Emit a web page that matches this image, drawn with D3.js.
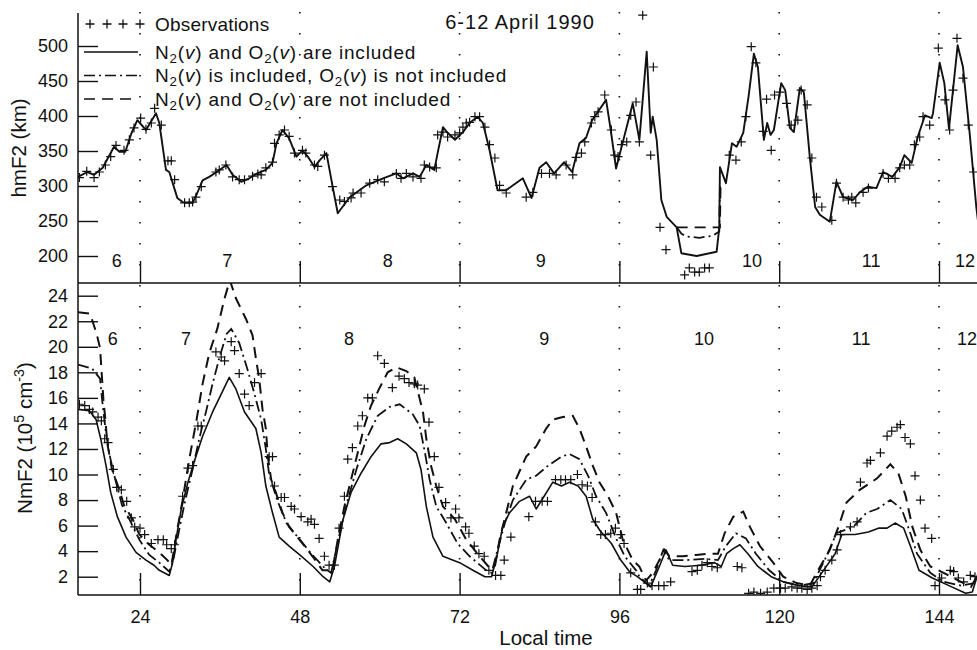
<!DOCTYPE html>
<html>
<head>
<meta charset="utf-8">
<script src="https://cdn.jsdelivr.net/npm/d3@7"></script>
<style>
  body { margin: 0; background: #fff; }
  svg { font-family: "Liberation Sans", Arial, Helvetica, sans-serif; }
</style>
</head>
<body>
<svg id="chart" width="977" height="650"></svg>
<script>
// hmF2 (km), model with N2(v) and O2(v)
const hmSolid = [[14.7,313],[16.1,320],[17.1,316],[18.4,326],[20.1,356],[20.9,349],[21.8,349],[22.7,375],[23.6,394],[24.9,380],[26.4,404],[26.9,390],[27.9,323],[28.4,320],[29.6,283],[30.4,277],[31.9,276],[32.6,290],[33.4,308],[34.4,313],[35.5,320],[37.0,330],[37.9,316],[39.2,306],[40.4,311],[41.6,318],[42.9,323],[43.9,333],[44.5,361],[45.4,380],[46.4,368],[47.5,342],[48.4,351],[49.2,342],[50.2,327],[51.0,337],[52.0,347],[52.9,301],[53.7,261],[55.5,284],[58.0,301],[60.5,311],[62.5,318],[63.5,311],[65.0,318],[66.0,313],[67.0,330],[68.2,323],[68.7,347],[69.5,384],[70.2,376],[71.3,366],[72.5,377],[73.5,390],[74.7,399],[75.5,390],[76.5,351],[77.7,294],[79.0,294],[81.5,311],[82.8,283],[84.0,326],[85.0,334],[86.2,318],[87.7,334],[88.9,320],[90.0,361],[91.0,369],[91.9,394],[94.0,423],[94.7,380],[95.5,325],[96.2,351],[98.0,418],[99.0,366],[100.1,492],[100.7,376],[101.0,399],[101.6,366],[102.3,280],[103.1,256],[104.6,241],[105.3,204],[107.6,200],[110.6,206],[111.0,240],[111.1,327],[112.0,304],[112.9,361],[113.6,356],[114.6,376],[115.4,428],[116.2,489],[116.8,470],[117.7,366],[118.2,390],[118.7,373],[119.2,380],[120.3,447],[120.9,437],[121.6,383],[122.2,377],[123.1,440],[123.7,434],[124.6,341],[125.4,270],[126.1,259],[127.6,249],[128.6,306],[129.6,284],[131.1,280],[132.1,291],[133.3,299],[134.6,297],[135.6,320],[137.0,313],[138.1,327],[138.8,344],[139.9,333],[140.8,370],[141.9,401],[142.9,397],[143.1,404],[144.1,476],[144.8,447],[145.5,382],[146.1,437],[146.8,501],[147.6,470],[148.6,376],[149.6,270],[150.5,200]];
// where the three hmF2 runs part
const hmDashDot = [[104.6,241],[105.3,232],[106.0,228],[108.0,226],[110.0,229],[111.0,235],[111.1,300]];
const hmDashed = [[104.6,241],[106.0,241],[108.0,241],[110.0,241],[111.1,241],[111.2,300]];
const hmObs = [[14.9,312],[16.0,321],[17.1,312],[17.9,320],[18.8,330],[19.6,342],[20.4,358],[21.6,351],[22.4,366],[23.1,383],[24.1,397],[24.9,381],[25.7,390],[26.2,411],[27.2,387],[28.2,336],[28.7,336],[29.2,309],[30.7,276],[31.4,276],[31.9,277],[32.4,284],[33.2,299],[35.4,320],[35.9,323],[36.9,330],[37.9,313],[38.9,309],[39.7,309],[40.9,314],[41.7,317],[42.2,316],[42.9,326],[43.9,334],[44.2,361],[44.9,373],[45.7,380],[46.4,371],[47.2,347],[48.4,351],[48.9,347],[50.2,330],[50.7,328],[51.7,344],[52.9,299],[54.0,280],[54.7,278],[55.7,283],[56.0,290],[57.2,290],[58.5,304],[59.7,309],[60.7,306],[62.5,318],[63.2,311],[64.0,318],[65.0,313],[66.2,311],[66.7,330],[67.5,327],[68.5,326],[68.7,373],[69.5,377],[70.2,370],[71.3,373],[72.0,376],[72.5,384],[73.0,390],[73.5,391],[74.3,399],[75.0,399],[75.8,384],[76.5,359],[77.3,340],[78.0,301],[79.0,290],[82.0,284],[83.0,291],[84.3,318],[85.5,318],[86.5,316],[88.0,330],[89.0,316],[89.5,341],[90.3,347],[90.8,363],[91.8,390],[92.3,399],[92.8,406],[93.8,430],[94.8,380],[95.3,344],[95.8,342],[96.3,359],[97.1,363],[97.7,401],[98.5,420],[99.0,363],[99.5,544],[100.7,344],[101.1,470],[102.1,241],[103.0,209],[105.8,173],[106.5,183],[107.3,177],[108.0,177],[108.8,183],[109.5,183],[112.5,344],[113.5,337],[114.3,363],[115.0,399],[115.8,499],[116.5,476],[117.6,378],[118.1,424],[118.8,351],[119.3,430],[120.1,434],[121.1,418],[121.8,387],[122.8,394],[123.3,437],[124.2,416],[124.9,340],[125.6,284],[126.4,270],[127.9,251],[128.6,304],[129.6,284],[130.4,280],[130.9,284],[131.5,276],[132.6,291],[133.4,297],[135.6,318],[136.4,311],[137.4,311],[138.1,326],[138.8,330],[139.6,330],[140.3,359],[141.1,370],[141.6,399],[142.6,387],[143.9,497],[144.9,423],[145.6,380],[146.1,437],[146.7,511],[147.6,454],[148.4,387],[149.2,320]];

// NmF2 (10^5 cm^-3)
const nmSolid = [[14.7,15.1],[16.4,15.0],[17.4,14.3],[18.1,12.8],[18.9,10.7],[19.6,8.6],[20.6,6.7],[21.9,5.1],[23.4,3.9],[24.9,3.3],[26.1,2.9],[26.9,2.5],[28.4,2.1],[28.9,3.1],[29.4,4.9],[30.2,7.3],[31.2,9.4],[32.2,11.1],[33.4,13.0],[34.9,14.9],[36.2,16.3],[37.4,17.6],[38.4,16.7],[39.7,14.9],[41.4,13.6],[42.2,11.7],[42.9,9.1],[43.9,7.0],[44.9,5.1],[46.4,4.4],[48.0,3.7],[50.0,2.8],[51.5,2.0],[52.5,1.6],[53.2,2.8],[54.5,6.5],[55.7,8.6],[57.2,10.1],[58.7,11.4],[60.2,12.4],[61.5,12.5],[62.7,12.8],[64.0,12.4],[65.5,11.7],[66.2,10.4],[67.0,7.5],[68.0,5.1],[69.5,3.6],[72.0,3.1],[74.0,2.5],[75.8,2.0],[76.8,2.0],[77.6,3.6],[78.5,6.0],[79.5,7.0],[81.0,7.9],[82.5,8.3],[83.5,7.3],[84.7,8.3],[86.0,9.4],[87.3,9.1],[88.5,9.4],[89.8,9.1],[91.0,8.3],[92.0,6.5],[93.1,5.6],[94.8,4.6],[96.2,3.3],[97.5,2.4],[98.7,2.0],[100.7,1.2],[102.0,2.8],[103.0,4.1],[104.0,2.9],[105.8,2.8],[108.3,2.9],[110.3,3.1],[111.3,2.8],[112.1,3.8],[113.1,4.2],[114.1,4.5],[115.3,3.8],[116.8,2.8],[118.8,2.0],[120.6,1.6],[122.9,1.3],[124.9,1.2],[126.4,2.3],[128.4,3.8],[129.4,5.3],[131.4,5.3],[133.4,5.5],[134.9,5.8],[136.2,5.8],[137.4,6.2],[138.7,5.8],[139.7,4.4],[141.0,2.5],[143.0,1.9],[145.5,1.3],[148.0,0.7],[149.0,0.8],[150.0,2.5]];
const nmDashDot = [[14.7,18.6],[16.8,18.3],[18.0,17.5],[18.3,15.9],[18.8,13.6],[19.4,11.6],[20.1,10.0],[21.3,7.6],[22.4,6.5],[23.9,4.9],[25.4,3.7],[26.9,3.1],[28.4,2.4],[29.0,3.3],[29.9,5.7],[30.8,8.0],[31.9,10.4],[32.9,12.8],[34.0,15.1],[34.9,17.1],[35.9,19.1],[37.0,21.0],[37.7,21.4],[38.9,20.3],[40.1,18.3],[41.2,16.3],[42.2,14.3],[42.9,12.0],[43.4,10.0],[44.6,8.0],[46.0,6.2],[48.0,4.9],[49.9,3.7],[51.7,2.7],[52.7,2.3],[54.0,5.4],[55.2,8.0],[56.5,10.4],[58.0,12.8],[59.7,14.6],[61.5,15.3],[63.0,15.5],[65.0,14.7],[66.0,13.8],[66.8,11.7],[67.5,9.6],[68.5,7.5],[70.0,6.2],[71.7,4.6],[73.5,3.6],[76.0,2.5],[76.8,2.3],[77.7,4.1],[78.8,6.2],[80.0,8.0],[82.0,9.6],[83.5,9.9],[85.3,10.7],[87.3,11.4],[88.5,11.6],[90.0,11.2],[91.3,9.9],[92.5,8.3],[94.0,7.0],[95.5,5.0],[96.8,3.6],[98.5,2.5],[99.0,2.0],[100.5,1.3],[101.5,2.5],[102.6,4.1],[103.5,3.3],[106.0,3.3],[109.0,3.4],[110.8,3.3],[112.0,4.4],[113.5,5.4],[115.0,5.0],[116.5,3.8],[118.5,2.5],[120.6,1.6],[123.0,1.3],[125.1,1.5],[127.1,3.6],[128.6,5.4],[131.1,5.9],[133.1,7.0],[134.7,7.3],[136.7,8.0],[138.4,7.3],[139.7,5.4],[140.7,3.8],[142.7,2.3],[144.7,1.6],[147.3,1.3],[149.3,1.5]];
const nmDashed = [[14.7,22.7],[16.5,22.6],[17.5,21.0],[18.0,19.9],[18.3,17.5],[18.5,15.9],[18.8,14.3],[19.1,12.4],[19.8,10.4],[20.9,8.8],[21.6,7.6],[22.9,6.5],[23.9,5.3],[25.4,4.5],[26.9,3.9],[28.1,3.3],[28.7,2.9],[29.1,4.1],[29.6,5.7],[30.4,8.0],[31.4,11.2],[32.5,14.3],[33.4,17.1],[34.4,19.5],[35.6,21.4],[36.7,23.8],[37.5,25.2],[38.4,23.8],[39.9,22.2],[40.9,20.9],[41.4,19.1],[41.9,17.5],[42.4,15.1],[42.9,13.6],[43.2,11.4],[43.7,9.6],[44.4,8.6],[45.4,7.0],[46.4,5.9],[48.4,4.6],[49.9,3.6],[51.4,2.5],[52.9,2.5],[53.7,4.9],[54.7,7.5],[55.7,9.6],[56.7,11.7],[57.7,13.8],[58.7,15.4],[60.0,16.8],[61.2,18.0],[62.5,18.4],[64.0,18.1],[65.2,17.6],[66.5,14.9],[67.0,12.8],[67.7,10.7],[68.5,9.1],[69.5,7.5],[71.3,6.5],[73.0,4.9],[75.0,3.6],[76.5,2.7],[77.3,2.8],[78.0,4.9],[79.0,7.0],[80.0,9.1],[82.0,11.4],[83.5,12.2],[85.0,13.6],[86.0,14.3],[87.5,14.5],[89.0,14.6],[90.0,13.6],[91.0,12.2],[92.0,10.7],[93.0,9.4],[94.3,8.3],[95.5,7.0],[96.5,4.9],[98.0,3.3],[99.0,2.8],[100.0,1.7],[101.0,2.3],[102.0,3.3],[102.8,4.1],[103.5,3.6],[105.5,3.6],[107.5,3.7],[109.5,3.8],[110.8,3.8],[111.8,5.4],[113.1,6.7],[114.6,7.1],[115.6,5.9],[117.1,4.4],[119.1,3.1],[120.6,2.0],[122.6,1.5],[124.6,1.3],[125.6,2.3],[127.6,4.1],[128.9,5.9],[130.1,7.8],[132.1,8.8],[134.7,9.7],[136.7,10.8],[137.9,10.1],[139.0,8.3],[140.0,5.9],[141.2,4.1],[142.7,2.8],[144.7,2.3],[147.3,1.6],[148.8,1.2],[150.0,2.3]];
const nmObs = [[14.9,15.5],[15.7,15.4],[16.4,15.1],[16.9,14.9],[17.7,14.5],[18.2,14.2],[18.7,12.8],[19.2,12.5],[20.0,10.4],[20.5,9.0],[21.2,8.8],[22.0,7.9],[22.7,6.6],[23.2,5.9],[24.0,5.8],[24.7,5.3],[25.7,4.6],[26.7,4.9],[27.5,4.9],[28.0,4.5],[28.7,4.2],[29.2,4.5],[30.4,8.3],[31.2,10.5],[31.9,10.7],[32.7,13.8],[33.2,13.8],[35.4,19.6],[36.2,19.2],[36.7,18.9],[37.7,20.4],[38.2,19.7],[38.9,17.9],[39.7,16.3],[40.4,15.4],[41.2,17.2],[42.2,17.9],[43.4,11.4],[43.9,11.4],[44.2,9.1],[45.2,8.2],[45.7,8.2],[46.7,7.5],[47.2,7.3],[48.2,6.7],[49.2,6.3],[49.7,6.5],[50.2,6.1],[50.9,5.0],[51.7,3.6],[52.4,2.9],[53.2,2.9],[53.9,5.8],[54.7,8.3],[55.2,11.2],[55.9,12.1],[56.7,13.8],[57.4,14.6],[58.2,16.0],[58.9,16.0],[59.7,19.3],[60.7,18.7],[61.9,16.8],[62.9,17.7],[63.7,17.5],[64.4,17.2],[65.2,17.1],[65.7,17.0],[66.7,16.7],[67.4,14.1],[68.2,11.4],[68.9,9.0],[69.9,7.8],[70.7,6.6],[71.4,7.3],[71.9,6.6],[72.9,5.9],[73.4,5.4],[74.2,4.4],[74.9,3.8],[75.7,3.6],[76.4,2.5],[77.4,2.1],[78.2,2.1],[78.7,3.3],[79.7,5.1],[82.4,6.7],[83.4,7.9],[84.4,7.9],[85.2,7.9],[86.4,9.6],[87.2,9.6],[87.9,9.6],[88.7,9.6],[89.7,10.0],[90.4,9.2],[91.2,9.1],[91.9,8.2],[92.4,6.3],[93.2,5.3],[93.9,5.3],[94.7,5.4],[95.4,5.8],[96.2,5.3],[96.7,4.6],[97.7,2.3],[98.7,1.0],[99.2,1.0],[100.2,1.5],[100.9,1.3],[101.9,1.3],[102.7,1.3],[103.7,1.6],[106.9,2.4],[107.7,2.5],[108.4,2.9],[109.2,3.1],[109.9,2.8],[110.7,2.7],[113.7,2.8],[114.4,2.7],[115.4,0.7],[116.2,0.8],[117.2,0.7],[118.2,0.8],[119.2,1.1],[120.2,1.1],[120.9,1.1],[121.9,1.2],[122.7,1.1],[123.4,1.1],[124.2,1.0],[124.9,1.1],[125.7,1.3],[126.2,2.0],[126.9,2.5],[127.9,3.3],[128.7,4.1],[129.2,5.3],[130.7,5.9],[131.7,6.3],[132.2,9.4],[133.2,10.9],[133.7,11.1],[135.2,11.7],[136.2,13.0],[136.9,13.4],[137.7,13.7],[138.2,13.9],[138.9,12.9],[139.7,12.4],[140.4,9.9],[141.2,8.0],[141.9,5.8],[142.9,5.0],[143.4,1.3],[144.4,1.9],[145.7,2.5],[146.2,2.4],[146.9,1.9],[147.7,1.6],[148.7,2.1],[149.4,2.0]];

const timeTicks = [24, 48, 72, 96, 120, 144];
const hmTicks = [200, 250, 300, 350, 400, 450, 500];
const nmTicks = [2, 4, 6, 8, 10, 12, 14, 16, 18, 20, 22, 24];
const dayNames = ['6', '7', '8', '9', '10', '11', '12'];
const dayTimesTop = [20.5, 37.1, 61.2, 84.2, 115.9, 133.8, 147.9];
const dayTimesBot = [19.9, 30.9, 55.4, 84.7, 108.7, 132.3, 148.2];

const width = 977;
const left = 78;
const mid = 283;
const bottom = 595;
const ink = '#111';
const dashed = '11,7';
const dashDot = '11,4,2,4';

const x = d3.scaleLinear().domain([24, 144]).range([140, 939]);
const yTop = d3.scaleLinear().domain([200, 500]).range([256, 46]);
const yBot = d3.scaleLinear().domain([2, 24]).range([576.7, 295.7]);

const svg = d3.select('#chart');

const defs = svg.append('defs');
defs.append('clipPath').attr('id', 'clipTop')
  .append('rect').attr('x', left).attr('y', 0).attr('width', width - left).attr('height', mid);
defs.append('clipPath').attr('id', 'clipBot')
  .append('rect').attr('x', left).attr('y', mid).attr('width', width - left).attr('height', bottom - mid);

// dotted midnight lines
svg.append('g')
  .selectAll('line')
  .data(timeTicks)
  .join('line')
  .attr('x1', d => x(d)).attr('x2', d => x(d))
  .attr('y1', 12).attr('y2', bottom)
  .attr('stroke', ink)
  .attr('stroke-width', 1.6)
  .attr('stroke-dasharray', '1.6,19.4');

// frame
const frame = svg.append('g').attr('stroke', ink).attr('stroke-width', 1.5);
frame.append('line').attr('x1', left).attr('x2', left).attr('y1', 13).attr('y2', bottom);
frame.append('line').attr('x1', left).attr('x2', width).attr('y1', mid).attr('y2', mid);
frame.append('line').attr('x1', left).attr('x2', width).attr('y1', bottom).attr('y2', bottom);

function styleAxis(g) {
  g.attr('font-family', null).attr('font-size', 18);
  g.select('.domain').remove();
  g.selectAll('.tick line').attr('stroke', ink).attr('stroke-width', 1.4);
  g.selectAll('.tick text').attr('fill', ink);
}

svg.append('g')
  .attr('transform', `translate(${left},0)`)
  .call(d3.axisLeft(yTop).tickValues(hmTicks).tickSize(-20).tickPadding(10))
  .call(styleAxis);

svg.append('g')
  .attr('transform', `translate(${left},0)`)
  .call(d3.axisLeft(yBot).tickValues(nmTicks).tickSize(-20).tickPadding(10))
  .call(styleAxis);

svg.append('g')
  .attr('transform', `translate(0,${mid})`)
  .call(d3.axisBottom(x).tickValues(timeTicks).tickSize(-22).tickFormat(''))
  .call(styleAxis);

svg.append('g')
  .attr('transform', `translate(0,${bottom})`)
  .call(d3.axisBottom(x).tickValues(timeTicks).tickSize(-22).tickPadding(15))
  .call(styleAxis);

// day numbers
svg.append('g')
  .selectAll('text')
  .data(dayNames)
  .join('text')
  .attr('x', (d, i) => x(dayTimesTop[i]))
  .attr('y', 267)
  .attr('text-anchor', 'middle')
  .attr('font-size', 18)
  .attr('fill', ink)
  .text(d => d);

svg.append('g')
  .selectAll('text')
  .data(dayNames)
  .join('text')
  .attr('x', (d, i) => x(dayTimesBot[i]))
  .attr('y', 345)
  .attr('text-anchor', 'middle')
  .attr('font-size', 18)
  .attr('fill', ink)
  .text(d => d);

const lineTop = d3.line().x(d => x(d[0])).y(d => yTop(d[1]));
const lineBot = d3.line().x(d => x(d[0])).y(d => yBot(d[1]));
const plus = 'M-4.5,0H4.5M0,-4.5V4.5';

const topPanel = svg.append('g').attr('clip-path', 'url(#clipTop)');
topPanel.append('path').attr('d', lineTop(hmDashed))
  .attr('fill', 'none').attr('stroke', ink).attr('stroke-width', 1.8).attr('stroke-dasharray', dashed);
topPanel.append('path').attr('d', lineTop(hmDashDot))
  .attr('fill', 'none').attr('stroke', ink).attr('stroke-width', 1.8).attr('stroke-dasharray', dashDot);
topPanel.append('path').attr('d', lineTop(hmSolid))
  .attr('fill', 'none').attr('stroke', ink).attr('stroke-width', 1.9).attr('stroke-linejoin', 'round');
topPanel.append('g')
  .selectAll('path')
  .data(hmObs)
  .join('path')
  .attr('transform', d => `translate(${x(d[0])},${yTop(d[1])})`)
  .attr('d', plus)
  .attr('stroke', ink)
  .attr('stroke-width', 1.2);

const botPanel = svg.append('g').attr('clip-path', 'url(#clipBot)');
botPanel.append('path').attr('d', lineBot(nmDashed))
  .attr('fill', 'none').attr('stroke', ink).attr('stroke-width', 2).attr('stroke-dasharray', dashed);
botPanel.append('path').attr('d', lineBot(nmDashDot))
  .attr('fill', 'none').attr('stroke', ink).attr('stroke-width', 1.8).attr('stroke-dasharray', dashDot);
botPanel.append('path').attr('d', lineBot(nmSolid))
  .attr('fill', 'none').attr('stroke', ink).attr('stroke-width', 1.6).attr('stroke-linejoin', 'round');
botPanel.append('g')
  .selectAll('path')
  .data(nmObs)
  .join('path')
  .attr('transform', d => `translate(${x(d[0])},${yBot(d[1])})`)
  .attr('d', plus)
  .attr('stroke', ink)
  .attr('stroke-width', 1.2);

// text with sub/superscripts and italics
function richText(sel, parts, subShift) {
  parts.forEach(p => {
    const t = sel.append('tspan').text(p.t);
    if (p.sub) t.attr('font-size', '70%').attr('dy', subShift);
    if (p.sup) t.attr('font-size', '70%').attr('dy', -8);
    if (p.it) t.attr('font-style', 'italic');
    if (p.back) t.attr('dy', p.back);
  });
}

const legend = svg.append('g').attr('fill', ink).attr('font-size', 19);
legend.selectAll('path')
  .data([90, 107, 123, 140])
  .join('path')
  .attr('transform', d => `translate(${d},24)`)
  .attr('d', plus)
  .attr('stroke', ink)
  .attr('stroke-width', 1.3);
legend.append('text').attr('x', 155).attr('y', 31).attr('letter-spacing', 0.2).text('Observations');

const legendRows = [
  { y: 52, dash: null, tail: ') are included', mid: ') and O' },
  { y: 75.5, dash: dashDot, tail: ') is not included', mid: ') is included, O' },
  { y: 99, dash: dashed, tail: ') are not included', mid: ') and O' }
];
legendRows.forEach(r => {
  legend.append('line')
    .attr('x1', 84).attr('x2', 138).attr('y1', r.y).attr('y2', r.y)
    .attr('stroke', ink).attr('stroke-width', 1.6)
    .attr('stroke-dasharray', r.dash);
  const t = legend.append('text')
    .attr('x', 155).attr('y', r.y + 6.5)
    .attr('letter-spacing', 0.8);
  richText(t, [
    { t: 'N' }, { t: '2', sub: true }, { t: '(', back: -4 }, { t: 'v', it: true },
    { t: r.mid }, { t: '2', sub: true }, { t: '(', back: -4 }, { t: 'v', it: true }, { t: r.tail }
  ], 4);
});

svg.append('text')
  .attr('x', 520).attr('y', 29)
  .attr('text-anchor', 'middle')
  .attr('font-size', 20)
  .attr('letter-spacing', 1)
  .attr('fill', ink)
  .text('6-12 April 1990');

svg.append('text')
  .attr('transform', 'translate(26,148) rotate(-90)')
  .attr('text-anchor', 'middle')
  .attr('font-size', 20.5)
  .attr('fill', ink)
  .text('hmF2 (km)');

const nmLabel = svg.append('text')
  .attr('transform', 'translate(32,438) rotate(-90)')
  .attr('text-anchor', 'middle')
  .attr('font-size', 20.5)
  .attr('fill', ink);
richText(nmLabel, [
  { t: 'NmF2 (10' }, { t: '5', sup: true }, { t: ' cm', back: 8 }, { t: '-3', sup: true }, { t: ')', back: 8 }
], 5);

svg.append('text')
  .attr('x', 546).attr('y', 645)
  .attr('text-anchor', 'middle')
  .attr('font-size', 20.5)
  .attr('fill', ink)
  .text('Local time');
</script>
</body>
</html>
